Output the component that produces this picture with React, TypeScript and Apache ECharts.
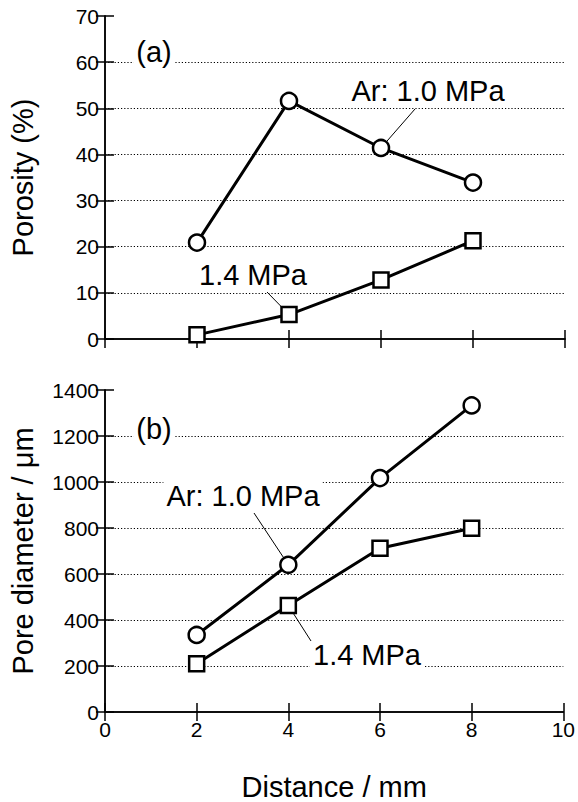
import React, { useEffect, useRef } from "react";
import * as echarts from "echarts";

const distance = [2, 4, 6, 8];
const porosityAr10 = [20.9, 51.6, 41.4, 33.9];
const porosity14 = [0.9, 5.3, 12.8, 21.3];
const poreAr10 = [335, 640, 1017, 1333];
const pore14 = [210, 463, 712, 799];
const xTicks = [0, 2, 4, 6, 8, 10];
const porosityGrid = [10, 20, 30, 40, 50, 60];
const poreGrid = [200, 400, 600, 800, 1000, 1200];

const FONT = "'Liberation Sans', Arial, Helvetica, sans-serif";
const BLACK = "#000";

function pairs(xs: number[], ys: number[]) {
  return xs.map((x, i) => [x, ys[i]]);
}

export default function App() {
  const ref = useRef<HTMLDivElement>(null);
  useEffect(() => {
    document.body.style.margin = "0";
    const chart = echarts.init(ref.current!, null, { renderer: "svg" });
    const axisLine = { show: true, lineStyle: { color: BLACK, width: 1.5 } };
    const tick = { show: true, inside: true, length: 9, lineStyle: { color: BLACK, width: 1.5 } };
    const grids = [
      { left: 105, top: 16, width: 460, height: 323 },
      { left: 105, top: 390, width: 460, height: 323 },
    ];
    const xAxes: any[] = [];
    const yAxes: any[] = [];
    [0, 1].forEach((g) => {
      xAxes.push({
        type: "value", gridIndex: g, min: xTicks[0], max: xTicks[xTicks.length - 1], interval: 2,
        position: "bottom", axisLine, axisTick: tick, splitLine: { show: false },
        axisLabel: { show: g === 1, color: BLACK, fontSize: 21, fontFamily: FONT, margin: 7,
          formatter: (v: number) => String(v) },
        name: g === 1 ? "Distance / mm" : "", nameLocation: "middle", nameGap: 60,
        nameTextStyle: { fontSize: 29, fontFamily: FONT, color: BLACK },
      });
      xAxes.push({
        type: "value", gridIndex: g, min: 0, max: 10, interval: 2, position: "top",
        axisLine, axisTick: tick, splitLine: { show: false }, axisLabel: { show: false },
      });
    });
    const yDefs = [
      { max: 70, interval: 10, name: "Porosity (%)" },
      { max: 1400, interval: 200, name: "Pore diameter / μm" },
    ];
    yDefs.forEach((d, g) => {
      yAxes.push({
        type: "value", gridIndex: g, min: 0, max: d.max, interval: d.interval, position: "left",
        axisLine, axisTick: tick,
        splitLine: { show: false },
        axisLabel: { color: BLACK, fontSize: 21, fontFamily: FONT, margin: 6,
          formatter: (v: number) => String(v) },
        name: d.name, nameLocation: "middle", nameGap: 68,
        nameTextStyle: { fontSize: 29, fontFamily: FONT, color: BLACK },
      });
      yAxes.push({
        type: "value", gridIndex: g, min: 0, max: d.max, interval: d.interval, position: "right",
        axisLine, axisTick: tick, splitLine: { show: false }, axisLabel: { show: false },
      });
    });
    const mk = (data: number[], g: number, sym: string, size: number) => ({
      type: "line",
      xAxisIndex: g * 2,
      yAxisIndex: g * 2,
      data: pairs(distance, data),
      symbol: sym,
      symbolSize: size,
      showSymbol: true,
      z: 20,
      lineStyle: { color: BLACK, width: 3 },
      itemStyle: { color: "#fff", borderColor: BLACK, borderWidth: 2.5 },
    });
    const gridSeries = (g: number, vals: number[], ref: number[]) => ({
      type: "line",
      xAxisIndex: g * 2,
      yAxisIndex: g * 2,
      data: pairs(distance, ref),
      showSymbol: false,
      silent: true,
      z: 1,
      lineStyle: { width: 0, opacity: 0 },
      markLine: {
        silent: true,
        symbol: ["none", "none"],
        label: { show: false },
        lineStyle: { color: "#000", width: 1.2, type: [1.2, 2] },
        data: vals.map((v) => ({ yAxis: v })),
      },
    });
    chart.setOption({
      animation: false,
      backgroundColor: "#fff",
      grid: grids,
      xAxis: xAxes,
      yAxis: yAxes,
      series: [
        gridSeries(0, porosityGrid, porosity14),
        gridSeries(1, poreGrid, pore14),
        mk(porosityAr10, 0, "circle", 16),
        mk(porosity14, 0, "rect", 15),
        mk(poreAr10, 1, "circle", 16),
        mk(pore14, 1, "rect", 15),
      ],
    });

    const text = (t: string, x: number, y: number) => ({
      type: "text",
      x,
      y,
      z: 10,
      style: {
        text: t,
        fontSize: 29,
        fontFamily: FONT,
        fill: BLACK,
        align: "center",
        verticalAlign: "middle",
        textAlign: "center",
        textVerticalAlign: "middle",
        backgroundColor: "#fff",
        padding: [1, 3],
      },
    });
    const leader = (sx: number, sy: number, g: number, dx: number, dy: number, r: number) => {
      const p = chart.convertToPixel({ gridIndex: g } as any, [dx, dy]) as number[];
      const vx = sx - p[0];
      const vy = sy - p[1];
      const len = Math.sqrt(vx * vx + vy * vy);
      return {
        type: "line",
        z: 15,
        shape: { x1: sx, y1: sy, x2: p[0] + (vx * r) / len, y2: p[1] + (vy * r) / len },
        style: { stroke: BLACK, lineWidth: 1 },
      };
    };
    chart.setOption({
      graphic: [
        text("(a)", 154, 52),
        text("Ar: 1.0 MPa", 428, 91),
        text("1.4 MPa", 253, 275),
        text("(b)", 154, 429),
        text("Ar: 1.0 MPa", 243, 496),
        text("1.4 MPa", 367, 655),
        leader(415, 109, 0, distance[2], porosityAr10[2], 8),
        leader(267, 292, 0, distance[1], porosity14[1], 3),
        leader(254, 513, 1, distance[1], poreAr10[1], 8),
        leader(311, 641, 1, distance[1], pore14[1], 3),
      ],
    });
    return () => chart.dispose();
  }, []);
  return <div ref={ref} style={{ width: 578, height: 802 }} />;
}
